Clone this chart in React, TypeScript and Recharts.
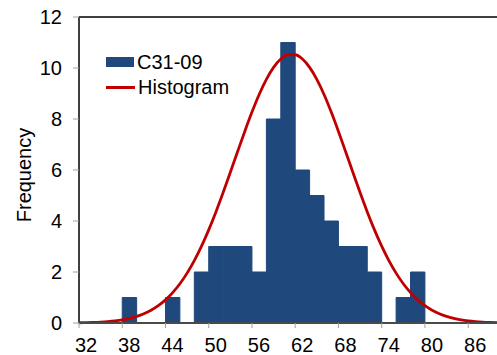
import React from 'react';
import { ComposedChart, Bar, Line, XAxis, YAxis, Legend, ReferenceLine } from 'recharts';

// Histogram bins (centre of each 2-unit bin) and counts
const binCenters = [33, 35, 37, 39, 41, 43, 45, 47, 49, 51, 53, 55, 57, 59, 61, 63, 65, 67, 69, 71, 73, 75, 77, 79, 81, 83, 85, 87, 89];
const binCounts = [0, 0, 0, 1, 0, 0, 1, 0, 2, 3, 3, 3, 2, 8, 11, 6, 5, 4, 3, 3, 2, 0, 1, 2, 0, 0, 0, 0, 0];

// Fitted curve
const curveX = [32, 33, 34, 35, 36, 37, 38, 39, 40, 41, 42, 43, 44, 45, 46, 47, 48, 49, 50, 51, 52, 53, 54, 55, 56, 57, 58, 59, 60, 61, 62, 63, 64, 65, 66, 67, 68, 69, 70, 71, 72, 73, 74, 75, 76, 77, 78, 79, 80, 81, 82, 83, 84, 85, 86, 87, 88, 89, 90];
const curveY = [0.01, 0.016, 0.025, 0.038, 0.058, 0.086, 0.126, 0.183, 0.26, 0.364, 0.501, 0.679, 0.906, 1.19, 1.538, 1.956, 2.447, 3.014, 3.653, 4.357, 5.115, 5.909, 6.716, 7.513, 8.272, 8.962, 9.555, 10.025, 10.351, 10.519, 10.519, 10.351, 10.025, 9.555, 8.962, 8.272, 7.513, 6.716, 5.909, 5.115, 4.357, 3.653, 3.014, 2.447, 1.956, 1.538, 1.19, 0.906, 0.679, 0.501, 0.364, 0.26, 0.183, 0.126, 0.086, 0.058, 0.038, 0.025, 0.016];

const xTicks = [32, 38, 44, 50, 56, 62, 68, 74, 80, 86];
const yTicks = [0, 2, 4, 6, 8, 10, 12];

const seriesBarName = 'C31-09';
const seriesLineName = 'Histogram';
const yTitle = 'Frequency';

const barData = binCenters.map((x, i) => ({ x, count: binCounts[i] }));
const lineData = curveX.map((x, i) => ({ x, fit: curveY[i] }));

const FONT = '"Liberation Sans", Arial, sans-serif';
const BAR_COLOR = '#1F497D';
const LINE_COLOR = '#C00000';

const XTick = (props: any) => {
  const { x, y, payload } = props;
  return (
    <text x={x + 7} y={y} dy="0.71em" textAnchor="middle" fontFamily={FONT} fontSize={20} fill="#000">
      {payload.value}
    </text>
  );
};

const YTick = (props: any) => {
  const { x, y, payload } = props;
  return (
    <text x={x} y={y} dy="0.355em" textAnchor="end" fontFamily={FONT} fontSize={20} fill="#000">
      {payload.value}
    </text>
  );
};

const LegendContent = () => (
  <div style={{ fontFamily: FONT, fontSize: 20, color: '#000', lineHeight: '25.6px' }}>
    <div style={{ display: 'flex', alignItems: 'center', height: 25.6 }}>
      <span style={{ display: 'inline-block', width: 28, height: 10, background: BAR_COLOR, marginRight: 3 }} />
      <span>{seriesBarName}</span>
    </div>
    <div style={{ display: 'flex', alignItems: 'center', height: 25.6 }}>
      <span style={{ display: 'inline-block', width: 29, height: 3, background: LINE_COLOR, marginRight: 3 }} />
      <span>{seriesLineName}</span>
    </div>
  </div>
);

export default function App() {
  return (
    <div style={{ position: 'absolute', left: 0, top: 0, width: 497, height: 355, background: '#fff' }}>
      <ComposedChart width={497} height={355} data={barData} margin={{ top: 17, right: 0, bottom: 0, left: 0 }}>
        <XAxis xAxisId="bin" type="number" dataKey="x" domain={[32, 90]} hide height={0} allowDataOverflow />
        <XAxis
          xAxisId="val"
          type="number"
          dataKey="x"
          domain={[32, 90]}
          ticks={xTicks}
          interval={0}
          height={32}
          tickSize={5}
          tickMargin={10}
          axisLine={{ stroke: '#4a4a4a', strokeWidth: 2 }}
          tickLine={{ stroke: '#a0a0a0' }}
          tick={<XTick />}
          allowDataOverflow
        />
        <YAxis
          type="number"
          domain={[0, 12]}
          ticks={yTicks}
          interval={0}
          width={79}
          tickSize={6}
          tickMargin={11}
          axisLine={{ stroke: '#404040', strokeWidth: 2 }}
          tickLine={{ stroke: '#a0a0a0' }}
          tick={<YTick />}
          label={{
            content: () => (
              <text x={31} y={175} transform="rotate(-90, 31, 175)" textAnchor="middle" fontFamily={FONT} fontSize={20} fill="#000">
                {yTitle}
              </text>
            ),
          }}
        />
        <ReferenceLine xAxisId="val" y={12} stroke="#404040" strokeWidth={2} />
        <Bar xAxisId="bin" dataKey="count" name={seriesBarName} fill={BAR_COLOR} stroke={BAR_COLOR} strokeWidth={1} barSize={14.4} isAnimationActive={false} />
        <Line xAxisId="val" data={lineData} dataKey="fit" name={seriesLineName} type="monotone" stroke={LINE_COLOR} strokeWidth={2.8} dot={false} activeDot={false} isAnimationActive={false} />
        <Legend
          layout="horizontal"
          align="center"
          verticalAlign="middle"
          content={<LegendContent />}
          wrapperStyle={{ position: 'absolute', left: 106, top: 49.5, width: 'auto', height: 'auto' }}
        />
      </ComposedChart>
    </div>
  );
}
